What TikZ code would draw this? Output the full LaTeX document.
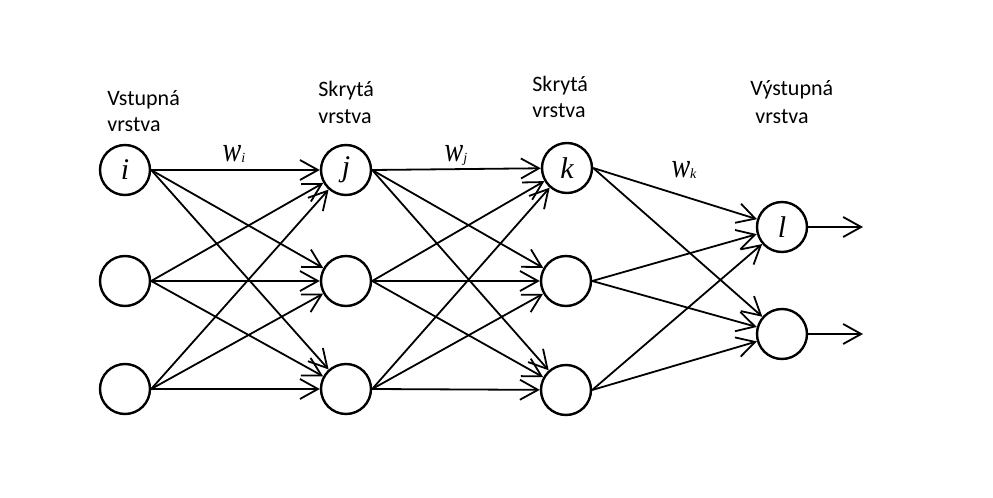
\documentclass[tikz,border=0pt]{standalone}
\usepackage{fontspec}
\setmainfont{Carlito}
\newfontfamily\letterfont{Liberation Serif}
\usetikzlibrary{arrows.meta}
\newcommand\wlabel[1]{\scalebox{1}[1.25]{w}{\fontsize{7}{7}\selectfont\raisebox{-0.5pt}{#1}}}

\begin{document}
\begin{tikzpicture}[x=0.5pt,y=-0.5pt,
    neuron/.style={draw,circle,line width=1.2pt,minimum size=25pt,inner sep=0pt,font=\letterfont\itshape\fontsize{15}{15}\selectfont},
    link/.style={line width=0.9pt,-{Straight Barb[length=9pt,width=10pt,line width=0.9pt]}},
    layername/.style={anchor=base west,inner sep=0pt,font=\fontsize{11}{13}\selectfont},
    weight/.style={anchor=base,inner sep=0pt,font=\letterfont\itshape\fontsize{14}{14}\selectfont}]
    \useasboundingbox (0,0) rectangle (993,498);
    % layer names
    \node[layername] (nin1) at (107,105) {Vstupná}; \node[layername] (nin2) at (107,132) {vrstva};
    \node[layername] (nha1) at (318,97) {Skrytá}; \node[layername] (nha2) at (318,123) {vrstva};
    \node[layername] (nhb1) at (532,91) {Skrytá}; \node[layername] (nhb2) at (532,118) {vrstva};
    \node[layername] (nout1) at (750,96) {Výstupná}; \node[layername] (nout2) at (755,123) {vrstva};
    % neurons
    \node[neuron] (in1) at (125,170) {i}; \node[neuron] (in2) at (125,281) {}; \node[neuron] (in3) at (125,389) {};
    \node[neuron] (ha1) at (346,170) {j}; \node[neuron] (ha2) at (346,281) {}; \node[neuron] (ha3) at (346,389) {};
    \node[neuron] (hb1) at (567,168) {k}; \node[neuron] (hb2) at (566,281) {}; \node[neuron] (hb3) at (566,390) {};
    \node[neuron] (out1) at (782,227) {l}; \node[neuron] (out2) at (782,334) {};
    \coordinate (end1) at (863,227); \coordinate (end2) at (863,334);
    % weights
    \node[weight] (wi) at (234,162) {\wlabel{i}};
    \node[weight] (wj) at (456,162) {\wlabel{j}};
    \node[weight] (wk) at (684,177) {\wlabel{k}};
    % connections
    \draw[link] (in1.east) -- (ha1); \draw[link] (in1.east) -- (ha2); \draw[link] (in1.east) -- (ha3);
    \draw[link] (in2.east) -- (ha1); \draw[link] (in2.east) -- (ha2); \draw[link] (in2.east) -- (ha3);
    \draw[link] (in3.east) -- (ha1); \draw[link] (in3.east) -- (ha2); \draw[link] (in3.east) -- (ha3);
    \draw[link] (ha1.east) -- (hb1); \draw[link] (ha1.east) -- (hb2); \draw[link] (ha1.east) -- (hb3);
    \draw[link] (ha2.east) -- (hb1); \draw[link] (ha2.east) -- (hb2); \draw[link] (ha2.east) -- (hb3);
    \draw[link] (ha3.east) -- (hb1); \draw[link] (ha3.east) -- (hb2); \draw[link] (ha3.east) -- (hb3);
    \draw[link] (hb1.east) -- (out1); \draw[link] (hb1.east) -- (out2);
    \draw[link] (hb2.east) -- (out1); \draw[link] (hb2.east) -- (out2);
    \draw[link] (hb3.east) -- (out1); \draw[link] (hb3.east) -- (out2);
    \draw[link] (out1.east) -- (end1); \draw[link] (out2.east) -- (end2);
\end{tikzpicture}
\end{document}
